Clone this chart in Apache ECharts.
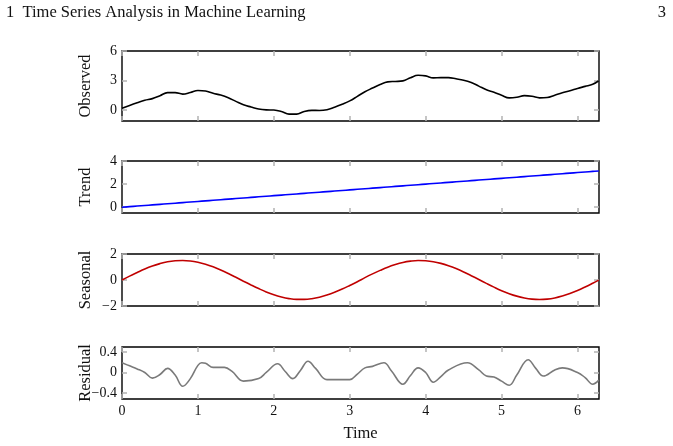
<!DOCTYPE html>
<html>
<head>
<meta charset="utf-8">
<script src="https://cdn.jsdelivr.net/npm/echarts@6/dist/echarts.min.js"></script>
<style>
  html, body { margin: 0; background: #fff; }
  #chart { width: 673px; height: 446px; }
</style>
</head>
<body>
<div id="chart"></div>
<script>
// sample times for the smooth components
const time = [0, 0.1, 0.2, 0.3, 0.4, 0.5, 0.6, 0.7, 0.8, 0.9, 1.0, 1.1, 1.2, 1.3, 1.4, 1.5, 1.6, 1.7, 1.8, 1.9,
  2.0, 2.1, 2.2, 2.3, 2.4, 2.5, 2.6, 2.7, 2.8, 2.9, 3.0, 3.1, 3.2, 3.3, 3.4, 3.5, 3.6, 3.7, 3.8, 3.9,
  4.0, 4.1, 4.2, 4.3, 4.4, 4.5, 4.6, 4.7, 4.8, 4.9, 5.0, 5.1, 5.2, 5.3, 5.4, 5.5, 5.6, 5.7, 5.8, 5.9,
  6.0, 6.1, 6.2, 6.28];
const observed = [0.19, 0.48, 0.75, 1.00, 1.17, 1.47, 1.78, 1.78, 1.63, 1.79, 2.00, 1.94, 1.71, 1.53, 1.26, 0.89, 0.54, 0.32, 0.12, 0.03,
  0.01, -0.14, -0.40, -0.40, -0.13, -0.02, -0.03, 0.05, 0.30, 0.60, 0.94, 1.40, 1.87, 2.24, 2.61, 2.87, 2.91, 2.97, 3.29, 3.54,
  3.48, 3.27, 3.30, 3.30, 3.18, 3.04, 2.80, 2.44, 2.07, 1.81, 1.51, 1.25, 1.31, 1.47, 1.41, 1.25, 1.28, 1.52, 1.76, 1.96,
  2.20, 2.41, 2.62, 2.98];
const trend = [0, 0.05, 0.1, 0.15, 0.2, 0.25, 0.3, 0.35, 0.4, 0.45, 0.5, 0.55, 0.6, 0.65, 0.7, 0.75, 0.8, 0.85, 0.9, 0.95,
  1.0, 1.05, 1.1, 1.15, 1.2, 1.25, 1.3, 1.35, 1.4, 1.45, 1.5, 1.55, 1.6, 1.65, 1.7, 1.75, 1.8, 1.85, 1.9, 1.95,
  2.0, 2.05, 2.1, 2.15, 2.2, 2.25, 2.3, 2.35, 2.4, 2.45, 2.5, 2.55, 2.6, 2.65, 2.7, 2.75, 2.8, 2.85, 2.9, 2.95,
  3.0, 3.05, 3.1, 3.14];
const seasonal = [0, 0.30, 0.58, 0.85, 1.08, 1.26, 1.40, 1.48, 1.50, 1.46, 1.36, 1.21, 1.01, 0.77, 0.50, 0.21, -0.09, -0.38, -0.66, -0.92,
  -1.14, -1.31, -1.43, -1.49, -1.49, -1.44, -1.33, -1.16, -0.95, -0.70, -0.42, -0.13, 0.18, 0.47, 0.74, 0.99, 1.19, 1.35, 1.45, 1.50,
  1.48, 1.41, 1.28, 1.10, 0.88, 0.62, 0.33, 0.04, -0.26, -0.55, -0.82, -1.05, -1.24, -1.38, -1.47, -1.50, -1.47, -1.38, -1.23, -1.04,
  -0.81, -0.54, -0.25, -0.01];
// residual read at its turning points
const residualTime = [0, 0.1, 0.2, 0.3, 0.4, 0.5, 0.6, 0.7, 0.8, 0.9, 1.0, 1.05, 1.1, 1.2, 1.35, 1.45, 1.6, 1.8, 1.9,
  2.05, 2.15, 2.25, 2.35, 2.45, 2.55, 2.7, 3.0, 3.1, 3.2, 3.3, 3.45, 3.55, 3.7, 3.8, 3.9, 4.0, 4.1, 4.2, 4.3,
  4.55, 4.7, 4.8, 4.9, 5.0, 5.1, 5.2, 5.35, 5.45, 5.55, 5.7, 5.8, 6.0, 6.1, 6.2, 6.28];
const residual = [0.19, 0.13, 0.07, 0.0, -0.11, -0.04, 0.08, -0.05, -0.27, -0.12, 0.14, 0.19, 0.18, 0.10, 0.10, 0.02, -0.17, -0.12, 0.0,
  0.17, 0.02, -0.12, 0.04, 0.22, 0.08, -0.14, -0.14, -0.03, 0.09, 0.12, 0.19, 0.03, -0.23, -0.06, 0.09, 0.0, -0.19, -0.08, 0.05,
  0.19, 0.05, -0.07, -0.09, -0.17, -0.25, -0.05, 0.25, 0.08, -0.07, 0.05, 0.09, 0.0, -0.1, -0.23, -0.15];

const xTicks = [0, 1, 2, 3, 4, 5, 6];
const observedTicks = [0, 3, 6];
const trendTicks = [0, 2, 4];
const seasonalTicks = [-2, 0, 2];
const residualTicks = [-0.4, 0, 0.4];

const serif = 'Liberation Serif';
const tickColor = '#b3b3b3';

const panels = [
  { name: 'Observed', top: 51, height: 70, min: -1.1, max: 6, ticks: observedTicks, color: '#000000', x: time, y: observed },
  { name: 'Trend', top: 161, height: 52, min: -0.5, max: 4, ticks: trendTicks, color: '#0000ff', x: time, y: trend },
  { name: 'Seasonal', top: 254, height: 52, min: -2, max: 2, ticks: seasonalTicks, color: '#c00000', x: time, y: seasonal },
  { name: 'Residual', top: 347, height: 52, min: -0.52, max: 0.5, ticks: residualTicks, color: '#7a7a7a', x: residualTime, y: residual },
];

function minus(v) {
  return String(v).replace('-', '\u2212');
}

const grid = [], xAxis = [], yAxis = [], series = [];
panels.forEach((p, i) => {
  const last = i === panels.length - 1;
  grid.push({
    left: 122, right: 74, top: p.top, height: p.height,
    show: true, borderColor: '#000', borderWidth: 1.4, backgroundColor: 'transparent',
  });
  ['bottom', 'top'].forEach((pos) => {
    xAxis.push({
      type: 'value', gridIndex: i, position: pos, min: 0, max: 6.283,
      axisLine: { show: false, onZero: false },
      splitLine: { show: false },
      axisTick: { show: true, inside: true, length: 5, customValues: xTicks, lineStyle: { color: tickColor, width: 1.5 } },
      axisLabel: {
        show: last && pos === 'bottom', customValues: xTicks, margin: 5,
        fontFamily: serif, fontSize: 14, color: '#111',
      },
      name: last && pos === 'bottom' ? 'Time' : '',
      nameLocation: 'middle', nameGap: 26, nameMoveOverlap: false,
      nameTextStyle: { fontFamily: serif, fontSize: 16.5, color: '#111' },
    });
  });
  ['left', 'right'].forEach((pos) => {
    yAxis.push({
      type: 'value', gridIndex: i, position: pos, min: p.min, max: p.max,
      axisLine: { show: false, onZero: false },
      splitLine: { show: false },
      axisTick: { show: true, inside: true, length: 5, customValues: p.ticks, lineStyle: { color: tickColor, width: 1.5 } },
      axisLabel: {
        show: pos === 'left', customValues: p.ticks, margin: 5,
        fontFamily: serif, fontSize: 14, color: '#111',
        formatter: minus,
      },
      name: pos === 'left' ? p.name : '',
      nameLocation: 'middle', nameRotate: 90, nameGap: 28, nameMoveOverlap: false,
      nameTextStyle: { fontFamily: serif, fontSize: 16.5, color: '#111' },
    });
  });
  series.push({
    type: 'line', xAxisIndex: i * 2, yAxisIndex: i * 2,
    data: p.x.map((t, k) => [t, p.y[k]]),
    smooth: 0.4, showSymbol: false, animation: false,
    lineStyle: { color: p.color, width: 1.6 },
  });
});

const chart = echarts.init(document.getElementById('chart'), null, { renderer: 'canvas' });
chart.setOption({
  backgroundColor: '#fff',
  animation: false,
  grid, xAxis, yAxis, series,
  graphic: [
    { type: 'text', left: 6, top: 4, style: { text: '1  Time Series Analysis in Machine Learning', font: '16.5px "Liberation Serif"', fill: '#111' } },
    { type: 'text', right: 7, top: 4, style: { text: '3', font: '16.5px "Liberation Serif"', fill: '#111' } },
  ],
});
</script>
</body>
</html>
